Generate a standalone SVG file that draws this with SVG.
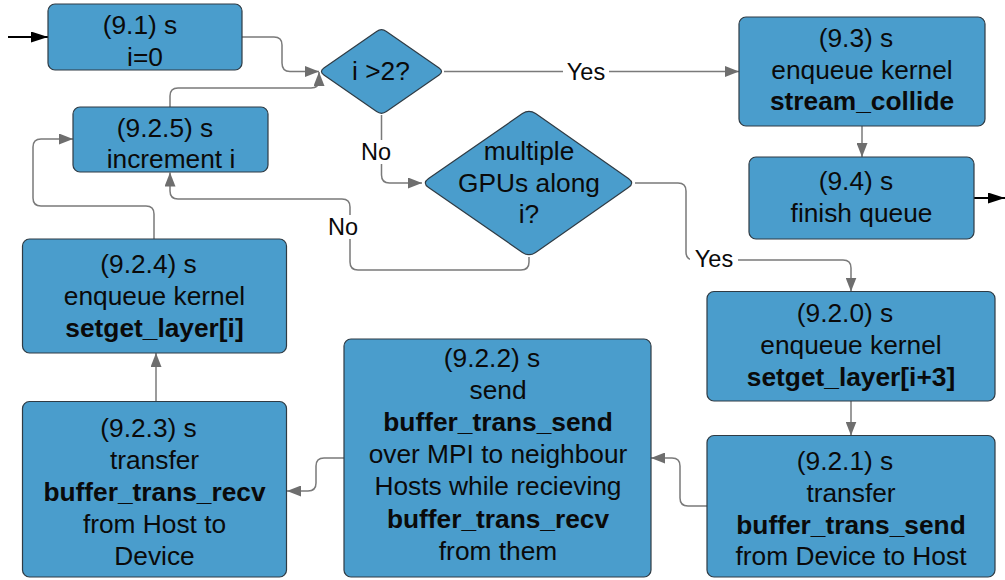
<svg xmlns="http://www.w3.org/2000/svg" width="1005" height="580" viewBox="0 0 1005 580">
<style>
.box{fill:#4a9dcc;stroke:#2f3b44;stroke-width:1.2}
.t{font-family:"Liberation Sans",Arial,sans-serif;font-size:26.3px;fill:#0a0a0a;text-anchor:middle}
.b{font-weight:bold}
.c{fill:none;stroke:#7a7a7a;stroke-width:1.5}
.k{fill:none;stroke:#000;stroke-width:2}
.lbl{font-family:"Liberation Sans",Arial,sans-serif;font-size:23.5px;fill:#0a0a0a;text-anchor:middle}
.bg{fill:#fff}
</style>
<defs>
<marker id="ag" markerWidth="14" markerHeight="11" refX="14" refY="5.5" orient="auto" markerUnits="userSpaceOnUse"><path d="M0,0 L14,5.5 L0,11 Z" fill="#6e6e6e"/></marker>
<marker id="ab" markerWidth="17" markerHeight="11" refX="17" refY="5.5" orient="auto" markerUnits="userSpaceOnUse"><path d="M0,0 L17,5.5 L0,11 Z" fill="#000"/></marker>
</defs>
<rect width="1005" height="580" fill="#fff"/>

<g id="connectors">
<path class="k" d="M8,37 L48,37" marker-end="url(#ab)"/>
<path class="c" d="M242,37 L274,37 Q282,37 282,45 L282,63 Q282,71.5 290,71.5 L319,71.5" marker-end="url(#ag)"/>
<path class="c" d="M444,71.5 L739,71.5" marker-end="url(#ag)"/>
<path class="c" d="M381.5,115 L381.5,175 Q381.5,183 389.5,183 L422,183" marker-end="url(#ag)"/>
<path class="c" d="M529,257 L529,262 Q529,270 521,270 L358,270 Q350,270 350,262 L350,207 Q350,199 342,199 L178,199 Q170,199 170,191 L170,172.5" marker-end="url(#ag)"/>
<path class="c" d="M635,183 L678,183 Q686,183 686,191 L686,252 Q686,260 694,260 L843,260 Q851,260 851,268 L851,291.5" marker-end="url(#ag)"/>
<path class="c" d="M862,126 L862,157" marker-end="url(#ag)"/>
<path class="k" d="M974,198 L1005,198" marker-end="url(#ab)"/>
<path class="c" d="M851,401 L851,435.5" marker-end="url(#ag)"/>
<path class="c" d="M707,506 L688,506 Q680,506 680,498 L680,466 Q680,458 672,458 L651,458" marker-end="url(#ag)"/>
<path class="c" d="M344,458 L324,458 Q316,458 316,466 L316,483 Q316,491 308,491 L287,491" marker-end="url(#ag)"/>
<path class="c" d="M156,401.5 L156,353" marker-end="url(#ag)"/>
<path class="c" d="M154,239 L154,214 Q154,206 146,206 L41,206 Q33,206 33,198 L33,147 Q33,139 41,139 L73,139" marker-end="url(#ag)"/>
<path class="c" d="M170,107 L170,96 Q170,88 178,88 L311,88 Q319,88 319,80 L319,72" marker-end="url(#ag)"/>
<rect class="bg" x="563" y="58" width="46" height="26"/>
<text class="lbl" x="586" y="79.5">Yes</text>
<rect class="bg" x="359" y="140" width="34" height="24"/>
<text class="lbl" x="376" y="160">No</text>
<rect class="bg" x="326" y="215" width="34" height="24"/>
<text class="lbl" x="343" y="235">No</text>
<rect class="bg" x="690" y="247" width="48" height="26"/>
<text class="lbl" x="714" y="267">Yes</text>
</g>

<g id="n91">
<rect class="box" x="48" y="4" width="194" height="66" rx="7"/>
<text class="t"><tspan x="140" y="34">(9.1) s</tspan><tspan x="145" y="66">i=0</tspan></text>
</g>

<g id="d1">
<path class="box" d="M323.9,68.1 L376.6,31.4 Q381.5,28 386.4,31.4 L439.1,68.1 Q444,71.5 439.1,74.9 L386.4,111.6 Q381.5,115 376.6,111.6 L323.9,74.9 Q319,71.5 323.9,68.1 Z"/>
<text class="t" x="381" y="80">i &gt;2?</text>
</g>

<g id="n93">
<rect class="box" x="739" y="17" width="246" height="109" rx="7"/>
<text class="t"><tspan x="856" y="47">(9.3) s</tspan><tspan x="862" y="79">enqueue kernel</tspan><tspan class="b" x="862" y="110">stream_collide</tspan></text>
</g>

<g id="n94">
<rect class="box" x="749" y="157" width="225" height="82" rx="7"/>
<text class="t"><tspan x="856" y="190">(9.4) s</tspan><tspan x="861.5" y="222">finish queue</tspan></text>
</g>

<g id="d2">
<path class="box" d="M428.6,178.4 L522.4,113.6 Q529,109 535.6,113.6 L628.4,178.4 Q635,183 628.4,187.6 L535.6,252.4 Q529,257 522.4,252.4 L428.6,187.6 Q422,183 428.6,178.4 Z"/>
<text class="t"><tspan x="529" y="160">multiple</tspan><tspan x="529" y="192">GPUs along</tspan><tspan x="529" y="223">i?</tspan></text>
</g>

<g id="n925">
<rect class="box" x="73" y="107" width="195" height="65" rx="7"/>
<text class="t"><tspan x="165" y="137">(9.2.5) s</tspan><tspan x="171" y="168">increment i</tspan></text>
</g>

<g id="n924">
<rect class="box" x="22.5" y="239" width="264" height="114" rx="7"/>
<text class="t"><tspan x="148.5" y="273">(9.2.4) s</tspan><tspan x="154.5" y="305">enqueue kernel</tspan><tspan class="b" x="154.5" y="337">setget_layer[i]</tspan></text>
</g>

<g id="n920">
<rect class="box" x="707" y="291.5" width="288" height="109.5" rx="7"/>
<text class="t"><tspan x="845" y="322">(9.2.0) s</tspan><tspan x="851" y="354">enqueue kernel</tspan><tspan class="b" x="851" y="386">setget_layer[i+3]</tspan></text>
</g>

<g id="n921">
<rect class="box" x="707" y="435.5" width="288" height="141.5" rx="7"/>
<text class="t"><tspan x="845" y="470">(9.2.1) s</tspan><tspan x="851" y="502">transfer</tspan><tspan class="b" x="851" y="534">buffer_trans_send</tspan><tspan x="851" y="565">from Device to Host</tspan></text>
</g>

<g id="n922">
<rect class="box" x="344" y="339" width="307" height="238" rx="7"/>
<text class="t"><tspan x="492" y="367">(9.2.2) s</tspan><tspan x="498" y="399">send</tspan><tspan class="b" x="498" y="431">buffer_trans_send</tspan><tspan x="498" y="463">over MPI to neighbour</tspan><tspan x="498" y="495">Hosts while recieving</tspan><tspan class="b" x="498" y="528">buffer_trans_recv</tspan><tspan x="498" y="560">from them</tspan></text>
</g>

<g id="n923">
<rect class="box" x="22.5" y="401.5" width="264" height="175.5" rx="7"/>
<text class="t"><tspan x="148.5" y="437">(9.2.3) s</tspan><tspan x="154.5" y="469">transfer</tspan><tspan class="b" x="154.5" y="501">buffer_trans_recv</tspan><tspan x="154.5" y="533">from Host to</tspan><tspan x="154.5" y="565">Device</tspan></text>
</g>
</svg>
